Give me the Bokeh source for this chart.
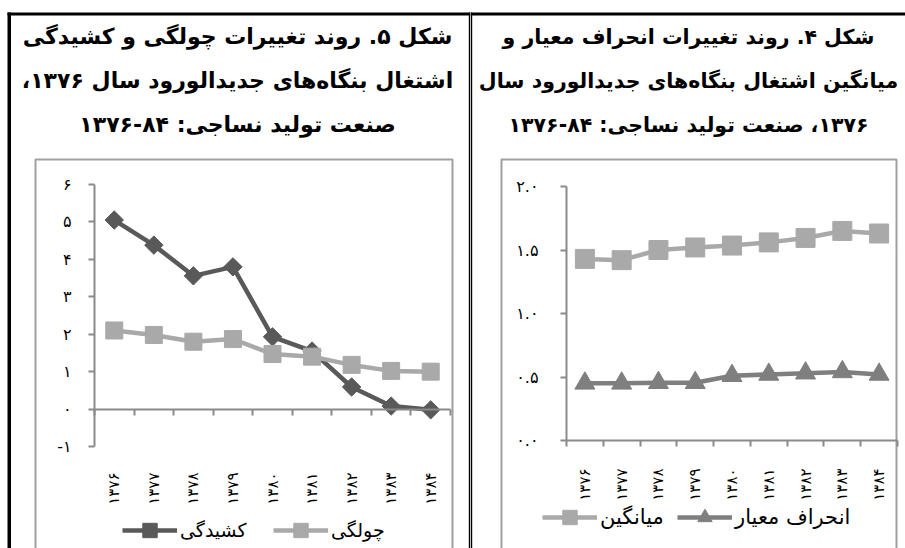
import math
from bokeh.plotting import figure
from bokeh.models import (Range1d, FixedTicker, LinearAxis, Legend, LegendItem,
                          ColumnDataSource)
from bokeh.core.properties import value
from bokeh.layouts import row
from bokeh.embed import file_html
from bokeh.resources import INLINE

# ---------------- data ----------------
years = ["۱۳۷۶", "۱۳۷۷", "۱۳۷۸", "۱۳۷۹", "۱۳۸۰", "۱۳۸۱", "۱۳۸۲", "۱۳۸۳", "۱۳۸۴"]

# Figure 5 (left): skewness & kurtosis
kurtosis = [5.05, 4.38, 3.56, 3.80, 1.93, 1.55, 0.59, 0.08, -0.02]
skewness = [2.10, 1.98, 1.80, 1.87, 1.47, 1.40, 1.18, 1.02, 1.00]

# Figure 4 (right): standard deviation & mean
std_dev = [0.45, 0.45, 0.455, 0.455, 0.51, 0.52, 0.53, 0.54, 0.52]
mean_val = [1.43, 1.42, 1.50, 1.52, 1.535, 1.56, 1.595, 1.65, 1.63]

left_y_ticks = [-1, 0, 1, 2, 3, 4, 5, 6]
left_y_labels = ["-۱", "۰", "۱", "۲", "۳", "۴", "۵", "۶"]
right_y_ticks = [0.0, 0.5, 1.0, 1.5, 2.0]
right_y_labels = ["۰.۰", "۰.۵", "۱.۰", "۱.۵", "۲.۰"]

left_series_names = ["کشیدگی", "چولگی"]
right_series_names = ["میانگین", "انحراف معیار"]

left_title = ["شکل ۵. روند تغییرات چولگی و کشیدگی",
              "اشتغال بنگاه‌های جدیدالورود سال ۱۳۷۶،",
              "صنعت تولید نساجی: ۸۴-۱۳۷۶"]
right_title = ["شکل ۴. روند تغییرات انحراف معیار و",
               "میانگین اشتغال بنگاه‌های جدیدالورود سال",
               "۱۳۷۶، صنعت تولید نساجی: ۸۴-۱۳۷۶"]

# category slots on a numeric axis: centre of slot i is i + 0.5
n = len(years)
slot_centres = [i + 0.5 for i in range(n)]
slot_edges = list(range(n + 1))

# ---------------- styles ----------------
FONT = "DejaVu Sans"
DARK = "#595959"
MID = "#7f7f7f"
LIGHT = "#a9a9a9"
AXIS = "#8a8a8a"
BOX = "#a0a0a0"
H = 548
RLM = "\u200f"
TITLE_Y = [36, 80, 124]


def ranges_for(W, px_left, px_right, x0, x1, px_top, px_bottom, y_top, y_bottom):
    """Data ranges so that the plot area [x0,x1]x[y_bottom,y_top] sits at the given pixels
    while the frame covers the whole canvas."""
    sx = (px_right - px_left) / (x1 - x0)
    sy = (px_bottom - px_top) / (y_top - y_bottom)
    xr = Range1d(x0 - px_left / sx, x1 + (W - px_right) / sx)
    yr = Range1d(y_bottom - (H - px_bottom) / sy, y_top + px_top / sy)
    return xr, yr


def base_figure(W, xr, yr):
    p = figure(width=W, height=H, x_range=xr, y_range=yr, output_backend="svg",
               toolbar_location=None, x_axis_location=None, y_axis_location=None,
               min_border=0, min_border_left=0, min_border_right=0,
               min_border_top=0, min_border_bottom=0, title=None)
    for g in p.grid:
        g.visible = False
    p.outline_line_color = None
    p.background_fill_color = "white"
    p.border_fill_color = "white"
    p.extra_x_ranges = {"px": Range1d(0, W)}
    p.extra_y_ranges = {"px": Range1d(H, 0)}
    return p


def add_y_axis(p, ticks, labels, lo, hi, standoff):
    ax = LinearAxis(ticker=FixedTicker(ticks=ticks),
                    major_label_overrides={t: l for t, l in zip(ticks, labels)},
                    fixed_location=0, bounds=(lo, hi),
                    axis_line_color=AXIS, axis_line_width=2,
                    major_tick_line_color=AXIS, major_tick_line_width=2,
                    major_tick_in=0, major_tick_out=6, minor_tick_line_color=None,
                    major_label_standoff=standoff, major_label_text_font=FONT,
                    major_label_text_font_size="16px", major_label_text_color="black")
    p.add_layout(ax, "left")


def add_x_axes(p, line_at, labels_at, standoff):
    edge = LinearAxis(ticker=FixedTicker(ticks=slot_edges),
                      major_label_overrides={e: "" for e in slot_edges},
                      fixed_location=line_at, bounds=(0, n),
                      axis_line_color=AXIS, axis_line_width=2,
                      major_tick_line_color=AXIS, major_tick_line_width=2,
                      major_tick_in=0, major_tick_out=6, minor_tick_line_color=None)
    p.add_layout(edge, "below")
    lab = LinearAxis(ticker=FixedTicker(ticks=slot_centres),
                     major_label_overrides={c: y for c, y in zip(slot_centres, years)},
                     fixed_location=labels_at, bounds=(0, n),
                     axis_line_color=None, major_tick_line_color=None,
                     major_tick_in=0, major_tick_out=0, minor_tick_line_color=None,
                     major_label_orientation=math.pi / 2,
                     major_label_standoff=standoff, major_label_text_font=FONT,
                     major_label_text_font_size="15px", major_label_text_color="black")
    p.add_layout(lab, "below")


def add_titles(p, lines, cx, size):
    p.text(x=[cx] * len(lines), y=TITLE_Y[:len(lines)], text=[RLM + t + RLM for t in lines],
           x_range_name="px", y_range_name="px", text_align="center",
           text_baseline="middle", text_font=value(FONT), text_font_size=size,
           text_font_style="bold", text_color="black")


def add_rect(p, l, r, t, b, color):
    p.quad(left=[l], right=[r], top=[t], bottom=[b], x_range_name="px",
           y_range_name="px", fill_color=color, line_color=None)


def add_frame(p, l, r, t, b, color):
    p.line(x=[l, l, r, r], y=[b, t, t, b], x_range_name="px", y_range_name="px",
           line_color=color, line_width=2)


def add_legend_entry(p, label, renderers, x, y, font_size):
    leg = Legend(items=[LegendItem(label=label, renderers=renderers)],
                 orientation="horizontal", location=(x, y),
                 glyph_width=55, glyph_height=36, label_standoff=3, spacing=0,
                 padding=0, margin=0, border_line_color=None, background_fill_alpha=0,
                 label_text_font=FONT, label_text_font_size=font_size,
                 label_text_color="black")
    p.add_layout(leg, "center")


# ---------------- left chart (Figure 5) ----------------
W1 = 470
xr1, yr1 = ranges_for(W1, 94, 450, 0, n, 184, 446, 6, -1)
p1 = base_figure(W1, xr1, yr1)

add_rect(p1, 7, W1, 12, 15, "black")          # top rule
add_rect(p1, 7, 10.5, 12, H, "black")         # left rule
add_rect(p1, 468.3, W1, 12, H, "black")       # middle rule (left half)
add_frame(p1, 35, 452, 159, H + 5, BOX)       # chart area border
add_titles(p1, left_title, 237, "22px")

add_y_axis(p1, left_y_ticks, left_y_labels, -1, 6, 17)
add_x_axes(p1, 0, -1, 26)

src1 = ColumnDataSource(dict(x=slot_centres, kurt=kurtosis, skew=skewness))
k_line = p1.line("x", "kurt", source=src1, line_width=4.5, line_color=DARK)
k_pts = p1.scatter("x", "kurt", source=src1, marker="square", angle=math.pi / 4,
                   size=13, fill_color=DARK, line_color=DARK)
s_line = p1.line("x", "skew", source=src1, line_width=4.5, line_color=LIGHT)
s_pts = p1.scatter("x", "skew", source=src1, marker="square", size=17,
                   fill_color=LIGHT, line_color=LIGHT)

add_legend_entry(p1, left_series_names[0], [k_line, k_pts], 122, 0, "19px")
add_legend_entry(p1, left_series_names[1], [s_line, s_pts], 273, 0, "19px")

# ---------------- right chart (Figure 4) ----------------
W2 = 435
xr2, yr2 = ranges_for(W2, 96, 427, 0, n, 186, 440, 2, 0)
p2 = base_figure(W2, xr2, yr2)

add_rect(p2, 0, W2, 12, 15, "black")          # top rule
add_rect(p2, 0, 1.7, 12, H, "black")          # middle rule (right half)
add_frame(p2, 31, 426, 159, H + 5, BOX)       # chart area border
add_titles(p2, right_title, 218, "20.5px")

add_y_axis(p2, right_y_ticks, right_y_labels, 0, 2, 22)
add_x_axes(p2, 0, 0, 28)

src2 = ColumnDataSource(dict(x=slot_centres, sd=std_dev, mean=mean_val))
sd_line = p2.line("x", "sd", source=src2, line_width=4.5, line_color=MID)
sd_pts = p2.scatter("x", "sd", source=src2, marker="triangle", size=20,
                    fill_color=MID, line_color=MID)
m_line = p2.line("x", "mean", source=src2, line_width=4.5, line_color=LIGHT)
m_pts = p2.scatter("x", "mean", source=src2, marker="square", size=19,
                   fill_color=LIGHT, line_color=LIGHT)

add_legend_entry(p2, right_series_names[0], [m_line, m_pts], 72, 13, "21px")
add_legend_entry(p2, right_series_names[1], [sd_line, sd_pts], 207, 13, "21px")

layout = row(p1, p2, spacing=0)
open("out.html", "w").write(file_html(layout, INLINE))
